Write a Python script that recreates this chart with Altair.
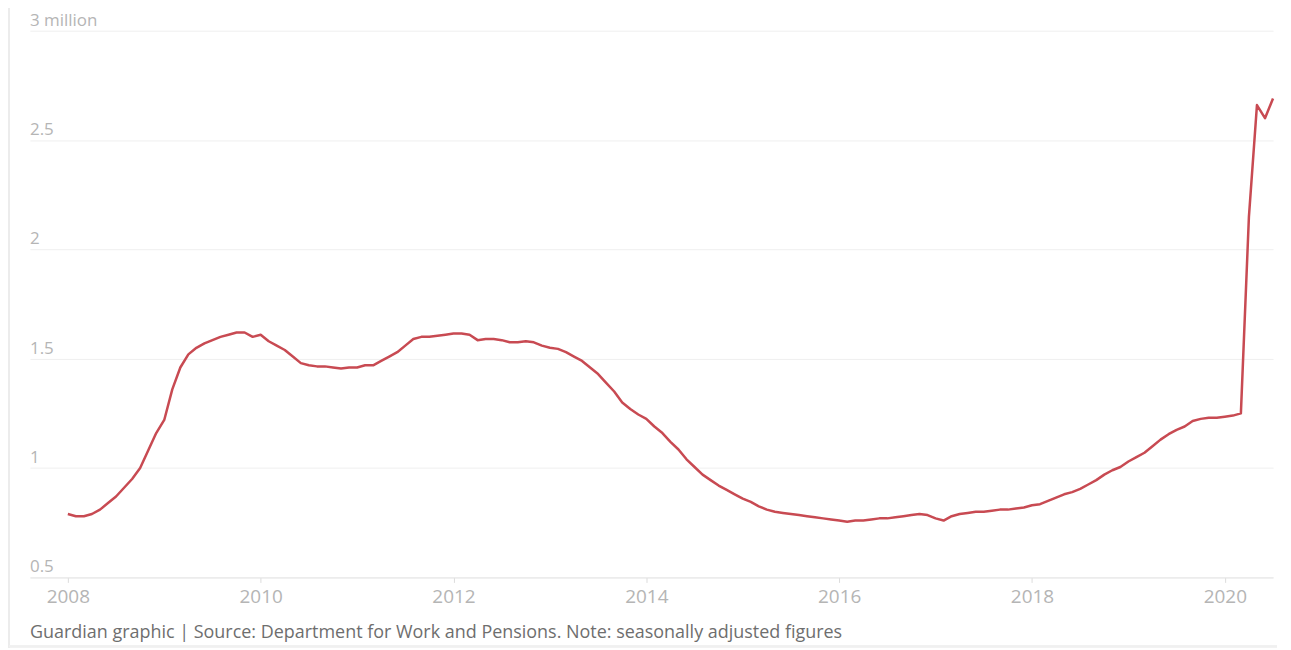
import altair as alt
import pandas as pd

# Monthly claimant count (millions), Jan 2008 – Jul 2020
start_year = 2008
values = [
    # 2008
    0.79, 0.78, 0.78, 0.79, 0.81, 0.84, 0.87, 0.91, 0.95, 1.00, 1.08, 1.16,
    # 2009
    1.22, 1.36, 1.46, 1.52, 1.55, 1.57, 1.585, 1.60, 1.61, 1.62, 1.62, 1.60,
    # 2010
    1.61, 1.58, 1.56, 1.54, 1.51, 1.48, 1.47, 1.465, 1.465, 1.46, 1.455, 1.46,
    # 2011
    1.46, 1.47, 1.47, 1.49, 1.51, 1.53, 1.56, 1.59, 1.60, 1.60, 1.605, 1.61,
    # 2012
    1.615, 1.615, 1.61, 1.585, 1.59, 1.59, 1.585, 1.575, 1.575, 1.58, 1.575, 1.56,
    # 2013
    1.55, 1.545, 1.53, 1.51, 1.49, 1.46, 1.43, 1.39, 1.35, 1.30, 1.27, 1.245,
    # 2014
    1.225, 1.19, 1.16, 1.12, 1.085, 1.04, 1.005, 0.97, 0.945, 0.92, 0.90, 0.88,
    # 2015
    0.86, 0.845, 0.825, 0.81, 0.80, 0.795, 0.79, 0.785, 0.78, 0.775, 0.77, 0.765,
    # 2016
    0.76, 0.755, 0.76, 0.76, 0.765, 0.77, 0.77, 0.775, 0.78, 0.785, 0.79, 0.785,
    # 2017
    0.77, 0.76, 0.78, 0.79, 0.795, 0.80, 0.80, 0.805, 0.81, 0.81, 0.815, 0.82,
    # 2018
    0.83, 0.835, 0.85, 0.865, 0.88, 0.89, 0.905, 0.925, 0.945, 0.97, 0.99, 1.005,
    # 2019
    1.03, 1.05, 1.07, 1.10, 1.13, 1.155, 1.175, 1.19, 1.215, 1.225, 1.23, 1.23,
    # 2020
    1.235, 1.24, 1.25, 2.15, 2.66, 2.60, 2.69,
]

x_ticks = [2008, 2010, 2012, 2014, 2016, 2018, 2020]
y_ticks = [0.5, 1, 1.5, 2, 2.5, 3]
y_tick_labels = ["0.5", "1", "1.5", "2", "2.5", "3 million"]
footer = ["Guardian graphic | Source: Department for Work and Pensions. Note: seasonally adjusted figures"]

df = pd.DataFrame({
    "t": [start_year + i / 12 for i in range(len(values))],
    "v": values,
})
labels_df = pd.DataFrame({"y": y_ticks, "label": y_tick_labels})
footer_df = pd.DataFrame({"text": footer})

x_scale = alt.Scale(domain=[2007.607, 2020.50], nice=False, zero=False)
y_scale = alt.Scale(domain=[0.5, 3], nice=False, zero=False)

line = alt.Chart(df).mark_line(color="#c84a52", strokeWidth=2.5, strokeJoin="round").encode(
    x=alt.X("t:Q", scale=x_scale,
            axis=alt.Axis(values=x_ticks, format="d", title=None, grid=False,
                          domain=True, domainColor="#e6e6e6", domainWidth=1,
                          ticks=True, tickColor="#dcdcdc", tickSize=5,
                          labelColor="#b5b5b5", labelFontSize=19, labelPadding=5,
                          labelFont="Open Sans")),
    y=alt.Y("v:Q", scale=y_scale,
            axis=alt.Axis(values=y_ticks, title=None, labels=False, ticks=False,
                          domain=False, grid=True, gridColor="#efefef", gridWidth=1)),
)

ylabels = alt.Chart(labels_df).mark_text(
    align="left", baseline="bottom", dy=-1, fontSize=17, color="#b5b5b5", font="Open Sans"
).encode(
    x=alt.value(0),
    y=alt.Y("y:Q", scale=y_scale),
    text="label:N",
)

footer_text = alt.Chart(footer_df).mark_text(
    align="left", baseline="middle", fontSize=18, color="#6e6e6e", font="Open Sans"
).encode(
    x=alt.value(0), y=alt.value(604), text="text:N"
)

# faint frame lines seen at the left and bottom edges of the reference
frame_left = alt.Chart(labels_df).mark_rule(color="#ececec", strokeWidth=2).encode(
    x=alt.value(-21), y=alt.value(-30), y2=alt.value(620)
)
frame_bottom = alt.Chart(labels_df).mark_rule(color="#f0f0f0", strokeWidth=2).encode(
    x=alt.value(-21), x2=alt.value(1250), y=alt.value(617)
)

chart = alt.layer(frame_left, frame_bottom, ylabels, footer_text, line).properties(
    width=1246,
    height=548,
    padding={"left": 22, "top": 22, "right": 10, "bottom": 70},
    autosize=alt.AutoSizeParams(type="none"),
    background="white",
).configure_view(strokeOpacity=0, strokeWidth=0)

chart.save("out.html", embed_options={"renderer": "svg", "actions": False})
